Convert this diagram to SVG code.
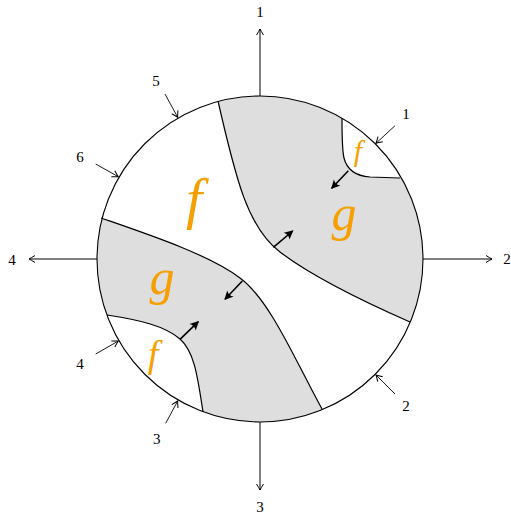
<svg xmlns="http://www.w3.org/2000/svg" width="511" height="517" viewBox="0 0 511 517">
<style>
.lbl{font-family:"Liberation Serif","DejaVu Serif",serif;font-size:15px;fill:#000;text-anchor:middle;dominant-baseline:central}
.let{font-family:"Liberation Serif","DejaVu Serif",serif;font-style:italic;fill:#f5a000;text-anchor:middle}
.bd{fill:none;stroke:#000;stroke-width:1.2}
.ax{fill:none;stroke:#000;stroke-width:1}
.thin{fill:none;stroke:#000;stroke-width:0.9;marker-end:url(#ah)}
.thick{fill:none;stroke:#000;stroke-width:1.6;marker-end:url(#bh)}
</style>
<defs>
<clipPath id="disk"><circle cx="260" cy="259" r="163"/></clipPath>
<marker id="ah" markerUnits="userSpaceOnUse" viewBox="-8 -5 10 10" refX="0" refY="0" markerWidth="10" markerHeight="10" orient="auto" overflow="visible">
<path d="M-6,-3.5 Q-2,-1 0,0 Q-2,1 -6,3.5" fill="none" stroke="#000" stroke-width="1"/>
</marker>
<marker id="bh" markerUnits="userSpaceOnUse" viewBox="-10 -6 12 12" refX="0" refY="0" markerWidth="12" markerHeight="12" orient="auto" overflow="visible">
<path d="M1,0 L-8,-4.5 Q-5,0 -8,4.5 Z" fill="#000"/>
</marker>
</defs>
<g id="regions" clip-path="url(#disk)">
<path id="grey-top-right" d="M218,101 C236,180 248,228 280,252 C310,275 360,300 410,322 L500,360 L500,0 L200,0 Z" fill="#dedede"/>
<path id="white-top-right" d="M342,118 C342,135 342,150 344,158 C347,170 355,176 370,177 L400,178 L480,180 L480,0 L340,0 Z" fill="#fff"/>
<path id="grey-bottom-left" d="M101,218 C150,235 210,255 240,278 C270,300 295,360 322,409 L340,520 L0,520 L0,200 Z" fill="#dedede"/>
<path id="white-bottom-left" d="M107,315 C140,320 165,326 180,339 C195,352 198,380 203,412 L210,520 L0,520 L0,300 Z" fill="#fff"/>
</g>
<g id="boundaries">
<path class="bd" d="M218,101 C236,180 248,228 280,252 C310,275 360,300 410,322"/>
<path class="bd" d="M342,118 C342,135 342,150 344,158 C347,170 355,176 370,177 L400,178"/>
<path class="bd" d="M101,218 C150,235 210,255 240,278 C270,300 295,360 322,409"/>
<path class="bd" d="M107,315 C140,320 165,326 180,339 C195,352 198,380 203,412"/>
</g>
<g id="circle"><circle cx="260" cy="259" r="163" fill="none" stroke="#000" stroke-width="1.1"/></g>
<g id="connectors">
<line class="ax" x1="260" y1="96" x2="260" y2="29" marker-end="url(#ah)"/>
<line class="ax" x1="260" y1="422" x2="260" y2="490" marker-end="url(#ah)"/>
<line class="ax" x1="97" y1="259" x2="29" y2="259" marker-end="url(#ah)"/>
<line class="ax" x1="423" y1="259" x2="492" y2="259" marker-end="url(#ah)"/>
<line class="thin" x1="395" y1="125.7" x2="376" y2="143.3"/>
<line class="thin" x1="395" y1="394" x2="376" y2="375"/>
<line class="thin" x1="165.7" y1="423.3" x2="177.7" y2="401"/>
<line class="thin" x1="95.7" y1="354" x2="118.3" y2="341"/>
<line class="thin" x1="165" y1="94" x2="177.7" y2="117.3"/>
<line class="thin" x1="95.7" y1="164" x2="118.3" y2="176.7"/>
<line class="thick" x1="348.3" y1="170.7" x2="331.7" y2="188.3"/>
<line class="thick" x1="273.3" y1="247.3" x2="292.7" y2="231"/>
<line class="thick" x1="242.3" y1="281" x2="225" y2="299.3"/>
<line class="thick" x1="180" y1="339.3" x2="198.3" y2="321.7"/>
</g>
<g id="labels">
<text class="lbl" x="260" y="12">1</text>
<text class="lbl" x="507" y="259">2</text>
<text class="lbl" x="260" y="507">3</text>
<text class="lbl" x="12" y="260">4</text>
<text class="lbl" x="406" y="114">1</text>
<text class="lbl" x="406" y="406">2</text>
<text class="lbl" x="156.7" y="439.3">3</text>
<text class="lbl" x="80" y="364.3">4</text>
<text class="lbl" x="156" y="81">5</text>
<text class="lbl" x="80" y="156.7">6</text>
</g>
<g id="letters">
<text class="let" x="194" y="218" font-size="58">f</text>
<text class="let" x="358" y="161" font-size="30">f</text>
<text class="let" x="153" y="367" font-size="38">f</text>
<text class="let" x="344" y="230" font-size="50">g</text>
<text class="let" x="162" y="294" font-size="50">g</text>
</g>
</svg>
